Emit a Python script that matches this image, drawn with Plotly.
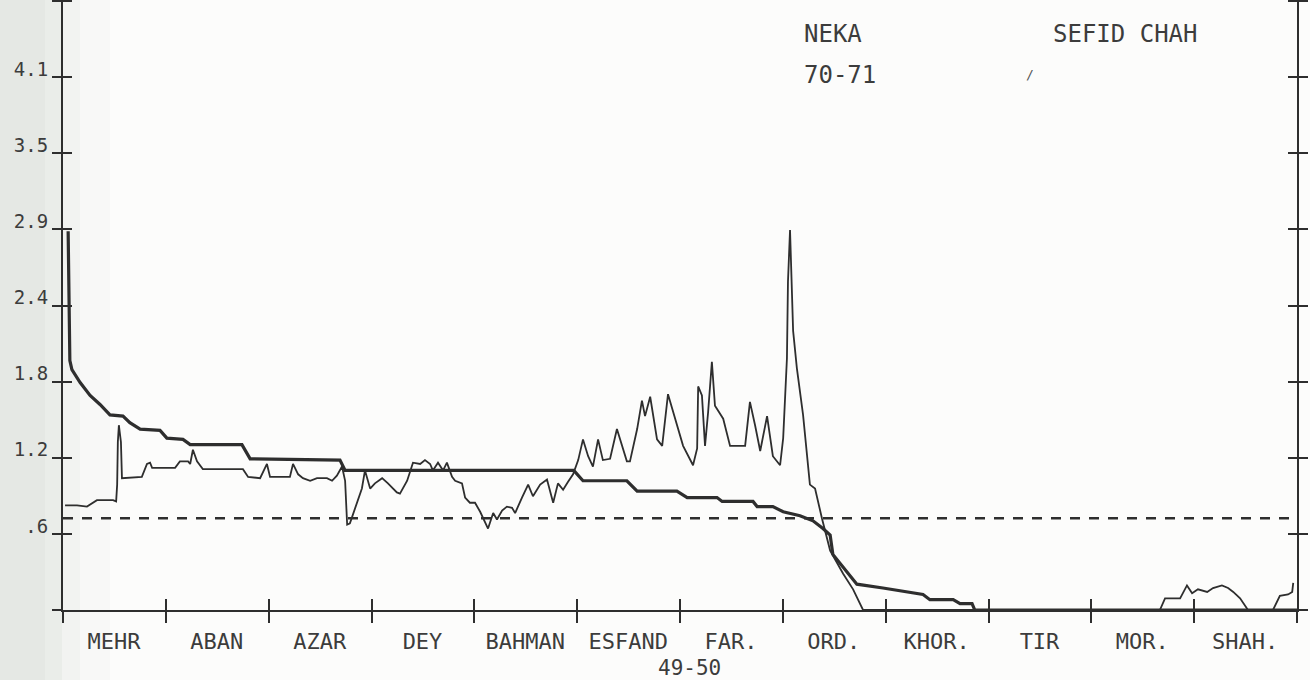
import plotly.graph_objects as go

# ---- axis data -------------------------------------------------------------
MONTHS = ["MEHR", "ABAN", "AZAR", "DEY", "BAHMAN", "ESFAND",
          "FAR.", "ORD.", "KHOR.", "TIR", "MOR.", "SHAH."]
MONTH_START_DAY = [0, 30, 60, 90, 120, 150, 180, 210, 240, 270, 300, 330, 360]
YEAR_DAYS = 360

Y_TICK_VALUES = [0.0, 0.589, 1.178, 1.767, 2.356, 2.945, 3.534, 4.123, 4.712]
Y_TICK_TEXT = ["", ".6", "1.2", "1.8", "2.4", "2.9", "3.5", "4.1", ""]
Y_TOP = 4.72

# ---- daily discharge, water year 49-50 -------------------------------------
hydro_day = [0.6, 1.8, 4.1, 7.0, 9.9, 12.8, 14.6, 15.5, 15.8, 16.0, 16.3, 16.9, 17.2,
             23.0, 24.5, 25.4, 26.0, 27.4, 32.7, 34.1, 36.5, 37.1, 37.9, 39.1, 40.8,
             52.5, 54.0, 57.5, 59.5, 60.4, 66.2, 67.1, 68.6, 70.0, 72.1, 74.1, 77.0,
             78.5, 79.9, 81.4, 82.3, 82.9, 83.7, 84.6, 85.8, 86.6, 87.2, 88.1, 89.6,
             91.0, 93.1, 94.8, 97.4, 98.3, 100.4, 102.1, 104.2, 105.6, 107.1, 107.9,
             109.4, 110.9, 112.0, 113.5, 114.4, 116.4, 117.3, 118.7, 120.2, 121.7,
             124.0, 125.5, 126.6, 128.1, 129.5, 131.0, 131.9, 133.9, 135.7, 137.1,
             139.2, 141.2, 143.0, 144.4, 145.9, 147.3, 148.8, 150.3, 151.7, 153.2,
             154.6, 156.1, 157.5, 159.6, 161.6, 164.5, 165.4, 167.5, 168.9, 169.8,
             171.3, 173.3, 174.8, 176.5, 178.6, 180.9, 183.8, 185.0, 185.3, 186.4,
             187.3, 188.2, 189.3, 190.2, 192.6, 194.6, 199.0, 200.4, 201.9, 203.4,
             205.4, 207.1, 209.2, 210.1, 211.2, 211.5, 212.1, 213.0, 214.1, 215.9,
             217.9, 219.4, 221.4, 223.8, 227.6, 230.5, 233.4, 320.0, 321.5, 325.9,
             327.9, 329.4, 331.1, 333.8, 335.5, 338.1, 339.9, 341.4, 343.4, 345.7,
             353.0, 355.0, 357.4, 358.6, 358.9]
hydro_flow = [0.81, 0.81, 0.81, 0.80, 0.85, 0.85, 0.85, 0.84, 0.97, 1.30, 1.43, 1.30, 1.02,
              1.03, 1.13, 1.14, 1.10, 1.10, 1.10, 1.15, 1.15, 1.13, 1.24, 1.15, 1.09,
              1.09, 1.03, 1.02, 1.13, 1.03, 1.03, 1.13, 1.05, 1.02, 1.00, 1.02, 1.02,
              1.00, 1.04, 1.11, 1.00, 0.66, 0.67, 0.74, 0.84, 0.90, 0.94, 1.08, 0.94,
              0.98, 1.02, 0.98, 0.91, 0.90, 1.00, 1.14, 1.13, 1.16, 1.13, 1.08,
              1.14, 1.08, 1.14, 1.03, 1.00, 0.98, 0.87, 0.83, 0.83, 0.76,
              0.63, 0.75, 0.70, 0.77, 0.80, 0.79, 0.75, 0.87, 0.97, 0.88,
              0.97, 1.01, 0.83, 0.98, 0.93, 0.99, 1.05, 1.16, 1.32, 1.19,
              1.11, 1.32, 1.16, 1.17, 1.40, 1.15, 1.15, 1.40, 1.62, 1.50,
              1.65, 1.32, 1.27, 1.67, 1.48, 1.27, 1.12, 1.25, 1.73, 1.66,
              1.27, 1.53, 1.92, 1.58, 1.48, 1.27, 1.27, 1.61, 1.43, 1.23,
              1.50, 1.19, 1.12, 1.33, 1.95, 2.54, 2.94, 2.16, 1.87, 1.51,
              0.97, 0.94, 0.71, 0.46, 0.28, 0.16, 0.0, 0.0, 0.09, 0.09,
              0.19, 0.13, 0.16, 0.14, 0.17, 0.19, 0.17, 0.14, 0.09, 0.0,
              0.0, 0.11, 0.12, 0.14, 0.21]

# ---- flow duration curve, 70-71 --------------------------------------------
dur_day = [1.5, 1.8, 2.0, 2.6, 5.0, 7.9, 10.8, 13.7, 17.5, 19.5, 22.5, 28.3, 30.3,
           35.0, 37.1, 52.2, 54.6, 80.8, 82.3, 149.0, 151.7, 164.5, 167.5, 179.1,
           182.1, 190.8, 192.3, 201.3, 202.5, 207.1, 210.1, 215.0, 218.8, 221.7,
           223.8, 224.6, 226.7, 229.6, 231.6, 239.2, 244.2, 250.9, 252.9, 259.7,
           261.7, 265.2, 266.0, 360.0]
dur_flow = [2.93, 2.38, 1.93, 1.86, 1.76, 1.66, 1.59, 1.51, 1.50, 1.45, 1.40, 1.39, 1.33,
            1.32, 1.28, 1.28, 1.17, 1.16, 1.08, 1.08, 1.00, 1.00, 0.92, 0.92,
            0.87, 0.87, 0.84, 0.84, 0.80, 0.80, 0.76, 0.73, 0.69, 0.63,
            0.58, 0.43, 0.36, 0.27, 0.20, 0.17, 0.15, 0.12, 0.08, 0.08,
            0.05, 0.05, 0.0, 0.0]

MEAN_FLOW = 0.71

# ---- styling ---------------------------------------------------------------
INK = "#2e2e2e"
TEXT_INK = "#3c3c3c"
PAPER = "#fcfcfb"
MONO = "DejaVu Sans Mono, Liberation Mono, monospace"

W, H = 1310, 680
M_L, M_R, M_T, M_B = 63, 13, 0, 70
plot_w = W - M_L - M_R
half_month_px = round(plot_w / YEAR_DAYS * 15)

fig = go.Figure()

fig.add_trace(go.Scatter(
    x=dur_day, y=dur_flow, mode="lines", name="duration 70-71",
    line=dict(color=INK, width=3.2), hoverinfo="skip"))

fig.add_trace(go.Scatter(
    x=hydro_day, y=hydro_flow, mode="lines", name="daily 49-50",
    line=dict(color=INK, width=1.8), hoverinfo="skip"))

# mean-flow reference line (drawn on the overlay axes that carry the inner ticks)
fig.add_trace(go.Scatter(
    x=[0, YEAR_DAYS], y=[MEAN_FLOW, MEAN_FLOW], mode="lines", name="mean",
    xaxis="x2", yaxis="y2",
    line=dict(color=INK, width=2.4, dash="10px,9px"), hoverinfo="skip"))

axis_common = dict(showgrid=False, zeroline=False, linecolor=INK, linewidth=2,
                   tickcolor=INK, tickwidth=2)

fig.update_layout(
    width=W, height=H,
    margin=dict(l=M_L, r=M_R, t=M_T, b=M_B),
    paper_bgcolor=PAPER, plot_bgcolor=PAPER,
    showlegend=False,
    xaxis=dict(range=[0, YEAR_DAYS], tickmode="array",
               tickvals=MONTH_START_DAY, ticktext=MONTHS + [""],
               ticks="outside", ticklen=11, showline=True, mirror=False,
               ticklabelshift=half_month_px, ticklabelstandoff=0,
               tickfont=dict(family=MONO, size=22, color=TEXT_INK),
               **axis_common),
    xaxis2=dict(range=[0, YEAR_DAYS], overlaying="x", anchor="y2", side="bottom",
                tickmode="array", tickvals=MONTH_START_DAY, showticklabels=False,
                ticks="inside", ticklen=11, showline=True, mirror=False,
                **axis_common),
    yaxis=dict(range=[0, Y_TOP], tickmode="array",
               tickvals=Y_TICK_VALUES, ticktext=Y_TICK_TEXT,
               ticks="outside", ticklen=9, showline=True, mirror="ticks",
               ticklabelshift=-8, ticklabelstandoff=0,
               tickfont=dict(family=MONO, size=19, color=TEXT_INK),
               **axis_common),
    yaxis2=dict(range=[0, Y_TOP], overlaying="y", anchor="x2", side="left",
                tickmode="array", tickvals=Y_TICK_VALUES, showticklabels=False,
                ticks="inside", ticklen=9, showline=True, mirror="ticks",
                **axis_common),
)

# station / year captions
def px_x(p):
    return (p - M_L) / plot_w

def px_y(p):
    return (H - M_B - p) / (H - M_B - M_T)

captions = [
    ("NEKA", 802, 34, 24),
    ("70-71", 802, 75, 24),
    ("SEFID CHAH", 1051, 34, 24),
]
for text, xp, yp, size in captions:
    fig.add_annotation(text=text, xref="paper", yref="paper",
                       x=px_x(xp), y=px_y(yp), xanchor="left", yanchor="middle",
                       showarrow=False,
                       font=dict(family=MONO, size=size, color=TEXT_INK))

fig.add_annotation(text="/", xref="paper", yref="paper", x=px_x(1030), y=px_y(74),
                   xanchor="center", yanchor="middle", showarrow=False,
                   font=dict(family=MONO, size=13, color="#555"))

fig.add_annotation(text="49-50", xref="paper", yref="paper", x=px_x(689), y=px_y(668),
                   xanchor="center", yanchor="middle", showarrow=False,
                   font=dict(family=MONO, size=21, color=TEXT_INK))

# grey tint along the left edge of the sheet
for right_px, alpha in [(110, 0.08), (80, 0.13), (62, 0.18), (45, 0.15)]:
    fig.add_shape(type="rect", xref="paper", yref="paper", layer="below",
                  x0=px_x(0), x1=px_x(right_px), y0=px_y(H), y1=px_y(0),
                  line=dict(width=0), fillcolor=f"rgba(200,210,200,{alpha})")

fig.write_html("out.html")
